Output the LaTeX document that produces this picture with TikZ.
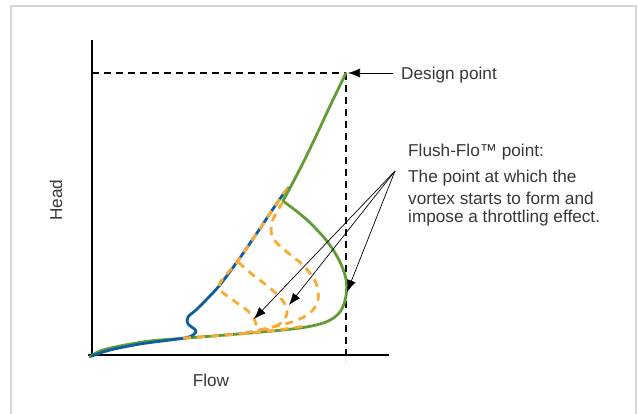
\documentclass[tikz,border=0pt]{standalone}
\usepackage{fontspec}
\setmainfont{Liberation Sans}
\usetikzlibrary{arrows.meta}
\definecolor{cgreen}{RGB}{98,156,54}
\definecolor{cblue}{RGB}{12,96,160}
\definecolor{corange}{RGB}{248,170,52}
\definecolor{cframe}{RGB}{214,214,214}
\definecolor{ctext}{RGB}{55,55,55}
\tikzset{
  axisline/.style={black, line width=1.2pt},
  guide/.style={black, line width=1.1pt, dash pattern=on 7pt off 5pt},
  greencurve/.style={cgreen, line width=2.8pt, line cap=round, line join=round},
  bluecurve/.style={cblue, line width=2.8pt, line cap=round, line join=round},
  orangedash/.style={corange, line width=2.8pt, dash pattern=on 8pt off 6pt},
  pointer/.style={black, line width=0.7pt, -{Latex[length=12pt,width=9pt]}},
  lbl/.style={text=ctext, font=\fontsize{17.2}{20}\selectfont, inner sep=0pt, anchor=west},
}
\begin{document}
\begin{tikzpicture}[x=1pt,y=-1pt]
\useasboundingbox (0,0) rectangle (638,414);
% frame
\draw[cframe, line width=1.5pt] (11,414) -- (11,6) -- (636,6) -- (636,414);
% axes
\draw[axisline] (92,40) -- (92,355);
\draw[axisline] (88,355) -- (389,355);
% guides
\coordinate (dp) at (346,73);
\draw[guide] (92,73) -- (dp);
\draw[guide] (dp) -- (346,361);
% green curve (lower loop)
\draw[greencurve] plot[smooth, tension=0.55] coordinates {(90,357) (100,351) (120,346) (150,341) (187,338) (250,333) (300,328) (326,322) (340,312) (346,296) (346,279) (339,260) (326,240) (306,219) (283,201)};
% blue curve
\draw[bluecurve] plot[smooth, tension=0.55] coordinates {(92,356) (110,350) (140,344) (170,340) (189,337) (196,331) (188,324) (188,317) (196,310) (207,299) (219,286) (237,262) (257,233) (277,203) (288,188)};
% orange dashed curves
\draw[orangedash] plot[smooth, tension=0.55] coordinates {(288,188) (277,203) (257,233) (237,262) (219,286) (233,300) (248,311) (255,321) (257,331)};
\draw[orangedash] plot[smooth, tension=0.55] coordinates {(238,262) (253,275) (270,288) (283,301) (287,313) (281,323) (266,330)};
\draw[orangedash] plot[smooth, tension=0.55] coordinates {(283,202) (272,222) (273,238) (287,252) (304,266) (316,283) (318,300) (310,313) (292,322) (268,328) (245,333)};
\draw[orangedash] plot[smooth, tension=0.55] coordinates {(183,338) (215,336) (250,333) (285,329) (305,326)};
% green upper branch
\draw[greencurve] plot[smooth, tension=0.55] coordinates {(283,201) (290,188) (303,163) (317,134) (331,104) (dp)};
% labels
\node[lbl, anchor=center, rotate=90] (head) at (56,200) {Head};
\node[lbl, anchor=center] (flow) at (211,380) {Flow};
\node[lbl] (design) at (401,75) {Design point};
\node[lbl] (ff) at (408,152) {Flush-Flo™ point:};
\node[lbl] (l1) at (408,178) {The point at which the};
\node[lbl] (l2) at (408,198) {vortex starts to form and};
\node[lbl] (l3) at (408,218) {impose a throttling effect.};
% pointers
\draw[pointer] (design.west) ++(-8,-2) -- (348,73);
\coordinate (hub) at (395,171);
\coordinate (t1) at (254,319);
\coordinate (t2) at (289,305);
\coordinate (t3) at (347,292);
\draw[pointer] (hub) -- (t1);
\draw[pointer] (hub) -- (t2);
\draw[pointer] (hub) -- (t3);
\end{tikzpicture}
\end{document}
